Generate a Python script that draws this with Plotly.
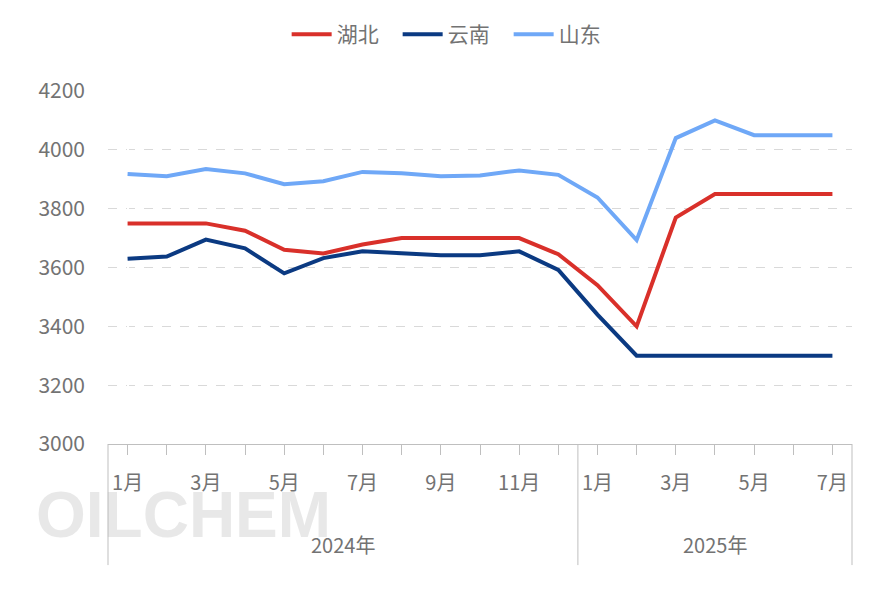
import plotly.graph_objects as go

months_2024 = [f"{m}月" for m in range(1, 13)]
months_2025 = [f"{m}月" for m in range(1, 8)]
years = ["2024年", "2025年"]
hubei = [3750,3750,3750,3725,3660,3648,3678,3700,3700,3700,3700,3645,3540,3400,3770,3850,3850,3850,3850]
yunnan = [3630,3637,3695,3665,3580,3632,3655,3648,3642,3642,3655,3592,3440,3300,3300,3300,3300,3300,3300]
shandong = [3918,3910,3935,3920,3883,3893,3925,3920,3910,3913,3930,3915,3838,3693,4040,4100,4050,4050,4050]

labels = months_2024 + months_2025
x = list(range(len(labels)))
ticktext = [l if int(l[:-1]) % 2 == 1 else "" for l in labels]

fig = go.Figure()
for name, ys, c in [("湖北", hubei, "#d9302a"), ("云南", yunnan, "#0b3a82"), ("山东", shandong, "#6fa8f7")]:
    fig.add_trace(go.Scatter(x=x, y=ys, name=name, mode="lines", line=dict(color=c, width=4)))

grey = "#737373"
fig.update_layout(
    width=885, height=590, margin=dict(l=100, r=41, t=83, b=154),
    plot_bgcolor="white", paper_bgcolor="white",
    font=dict(family="Noto Sans CJK SC", color=grey, size=20),
    legend=dict(orientation="h", x=0.503, xref="container", xanchor="center", y=0.955, yref="container",
                yanchor="middle", font=dict(size=21), itemwidth=40, entrywidthmode="pixels", entrywidth=56),
    showlegend=True,
)
fig.update_yaxes(range=[3000, 4200], dtick=200, showgrid=True, gridcolor="#d9d9d9", griddash="dash",
                 zeroline=False, ticks="", tickfont=dict(size=21, color=grey), ticklabelstandoff=22,
                 automargin=False)
fig.update_xaxes(range=[-0.5, len(x) - 0.5], tickvals=x, ticktext=ticktext, ticks="outside", ticklen=10,
                 tickcolor="#bfbfbf", showline=True, linecolor="#bfbfbf", linewidth=1, showgrid=False,
                 tickfont=dict(size=20, color=grey), ticklabelstandoff=11, automargin=False)

for px in [0, 12 / len(x), 1]:
    fig.add_shape(type="line", xref="paper", yref="paper", x0=px, x1=px, y0=0, y1=-0.343,
                  line=dict(color="#bfbfbf", width=1))
fig.add_annotation(xref="paper", yref="paper", x=6 / len(x), y=-0.286, text=years[0],
                   showarrow=False, font=dict(size=20, color=grey), xanchor="center", yanchor="middle")
fig.add_annotation(xref="paper", yref="paper", x=(12 + 3.5) / len(x), y=-0.286, text=years[1],
                   showarrow=False, font=dict(size=20, color=grey), xanchor="center", yanchor="middle")
fig.add_annotation(xref="paper", yref="paper", x=-0.1, y=-0.2, text="<b>OILCHEM</b>", showarrow=False,
                   font=dict(size=64, color="rgba(180,180,180,0.3)", family="Liberation Sans"),
                   xanchor="left", yanchor="middle")
fig.write_html("out.html")
